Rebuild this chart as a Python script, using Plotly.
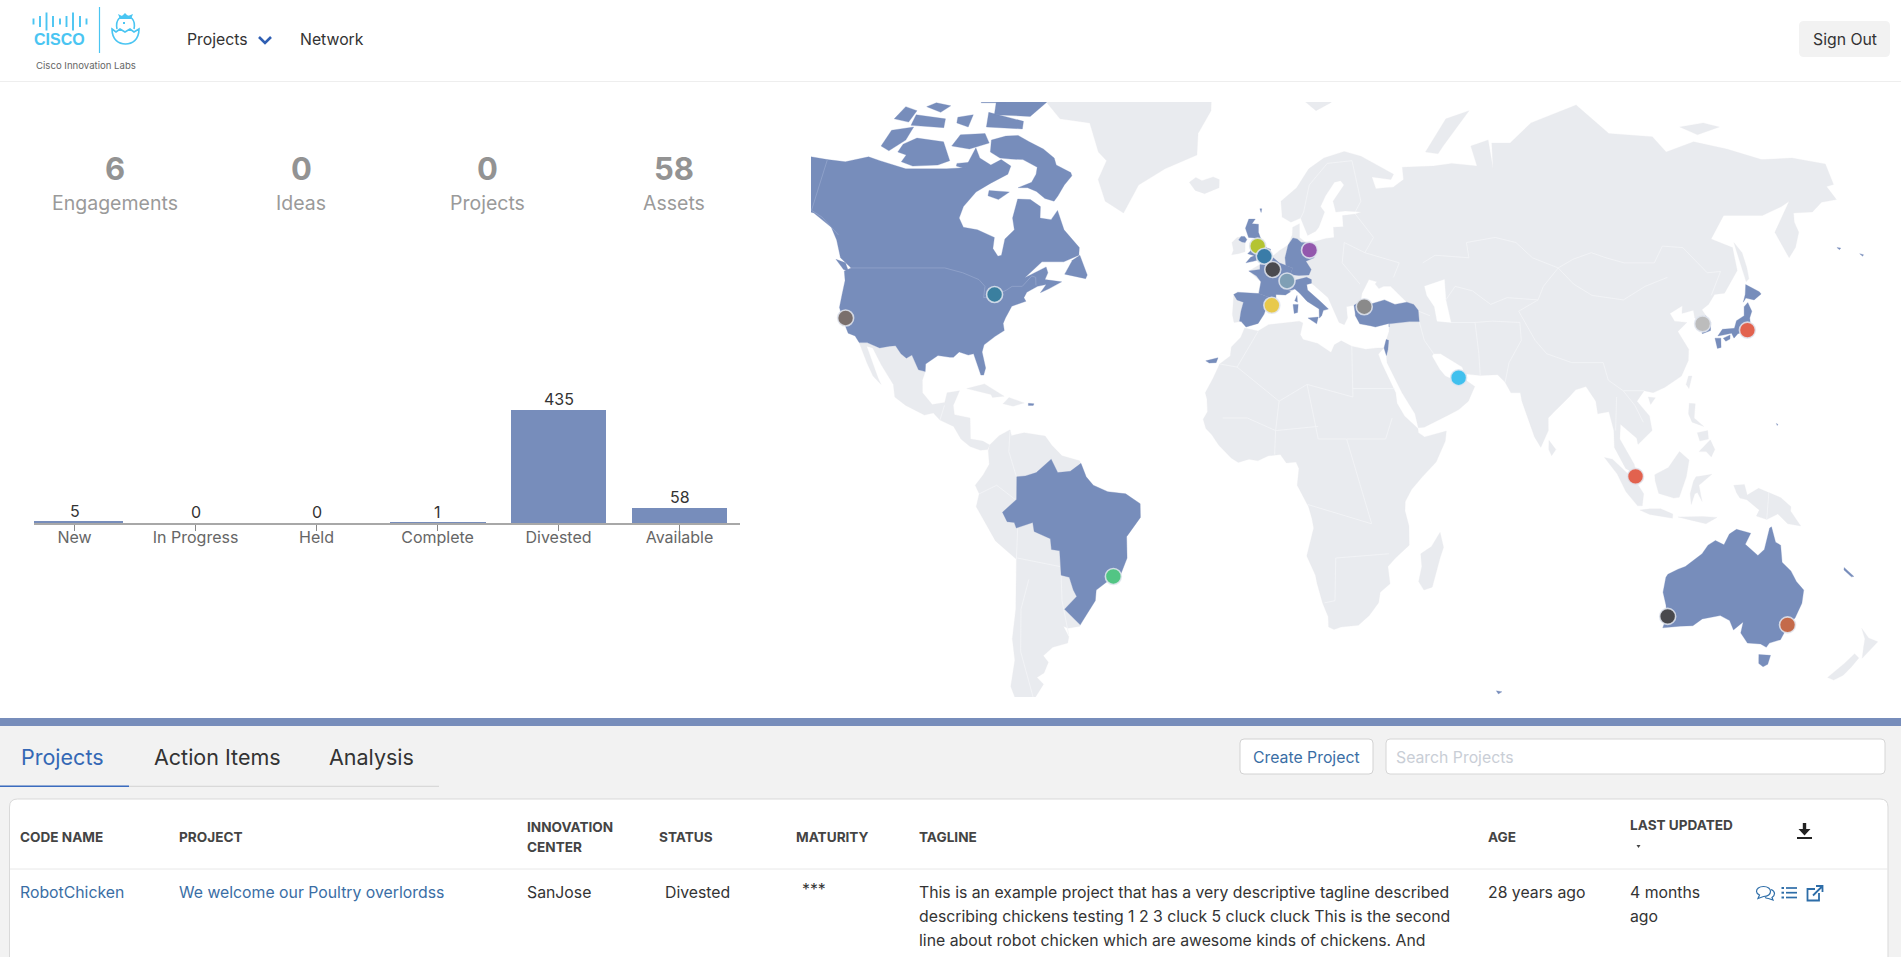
import numpy as np
import plotly.graph_objects as go

# ---------- bar chart data ----------
stage_names = ["New", "In Progress", "Held", "Complete", "Divested", "Available"]
stage_counts = [5, 0, 0, 1, 435, 58]

# ---------- KPI data ----------
kpi_labels = ["Engagements", "Ideas", "Projects", "Assets"]
kpi_values = ["6", "0", "0", "58"]

# ---------- map sites ----------
site_names = ["San Jose", "Toronto", "Manchester", "London", "Paris", "Geneva", "Berlin", "Barcelona",
              "Istanbul", "Dubai", "Seoul", "Tokyo", "Singapore", "Rio", "Perth", "Sydney"]
site_lat = [38.0, 43.2, 53.3, 51.3, 48.7, 46.2, 52.5, 40.8, 40.5, 24.6, 36.7, 35.3, 1.1, -22.3, -31.7, -33.7]
site_lon = [-122.0, -79.4, -2.2, -0.2, 2.3, 6.5, 13.4, 2.0, 29.0, 55.3, 127.0, 139.7, 103.6, -43.0, 115.9, 151.0]
site_colors = ["#7a6f6c", "#3a7f9f", "#b4c432", "#3a7ca8", "#4a4a4f", "#7f9fb5", "#9358ad", "#e8c94c",
               "#8a8a8a", "#40c0ee", "#bcbcbc", "#e2624e", "#e2624e", "#52c584", "#49494d", "#c46a4a"]

# ---------- land outlines, (lon, lat) ----------
africa = [(-5.9,35.8),(-2,35.1),(1,36.5),(5,36.8),(10,37.3),(11,36.9),(10.2,34.3),(11,33.2),(15.2,32.3),(19,30.3),(20,32),(22,32.9),(25,31.7),(29,31),(32.3,31.3),(34.2,31.3),(32.6,29.9),(33.5,27.8),(35.5,24),(37.2,21),(37.5,18.5),(39.5,15.5),(43.2,12.5),(43.3,11.5),(45,10.5),(51.2,11.9),(50.8,9.5),(48,4.5),(44,1),(41,-2),(39.3,-4.8),(39.3,-7),(40.5,-10.5),(40.7,-15),(36.9,-18),(34.8,-20),(35.5,-24),(32.8,-26),(32.5,-28.5),(30,-31.5),(27,-33.8),(22,-34.2),(20,-34.8),(18.4,-34.2),(18.2,-31.8),(16.5,-28.6),(14.8,-24),(14.3,-22),(11.8,-17.5),(13.7,-11),(13.2,-8.8),(12.2,-6),(9,-1),(9.5,3),(8.7,4.5),(6,4.3),(4.3,6.3),(1,6),(-2,4.8),(-4.5,5.2),(-7.5,4.4),(-9.5,5.5),(-13,8.5),(-15,11),(-16.7,12.5),(-17.5,14.7),(-16.3,16.5),(-16.5,19.5),(-17,21),(-14.8,24.5),(-13,27.7),(-10,29.5),(-9.7,31.5),(-7,33.7)]
madagascar = [(49.3,-12),(50.4,-15.5),(49.5,-18),(47.5,-24.8),(45.2,-25.5),(43.6,-23.5),(44.4,-20),(44,-17),(47,-15.3)]
eurasia = [(-9.2,43),(-2,43.4),(-1.2,46),(-4.8,48.4),(-1.5,49.7),(1.7,51),(4.5,52.5),(7,53.5),(8.3,55.5),(8.5,57),(10.6,57.7),(10.5,55),(12,54.2),(14,54),(18.5,54.8),(21,55),(21,57),(24,57.1),(24,59.3),(28,59.6),(30,60),(25,60.2),(22,60),(21.3,62),(25,65),(24,65.8),(22,65.5),(19,63),(17.3,61),(18.5,60),(16.5,57),(15.5,56.2),(13,55.4),(11,58.8),(8,58),(5.3,59),(5,62),(10,64.5),(14,68),(19,70),(25.7,71.1),(31,70.3),(41,67),(40,66),(34,66.5),(35,64.3),(38,64.5),(40.5,64.6),(44,66),(44,68.3),(54,68.5),(60,69),(68,68.5),(67,72),(73,73),(73,68),(74,72.5),(80,72.5),(88,75.5),(104,77.7),(113,74),(127,73.5),(130,71),(140,72.7),(150,71.5),(160,69.7),(170,70),(180,68.9),(180,65.1),(177.5,64.7),(179,62.3),(174,61.8),(170,60),(164,59.8),(163,58),(163,56),(160,53),(156.8,51),(155.7,56),(164,62),(161,61),(154,59.3),(142,59.3),(135.5,54.7),(141,53),(140,48.5),(135,43.5),(132,43.2),(129.7,41),(127.5,39.8),(129.4,37),(129,35.2),(126.5,34.5),(126.5,37),(125,38),(125,39.7),(121.5,39),(122,40.7),(118,39),(119,37.3),(122.5,37),(119.5,35),(122,31),(121.5,28.5),(119,25),(114,22.3),(110.5,21),(108,21.5),(105.7,19),(108.9,15.5),(109.3,12),(105,8.7),(104.8,10.2),(100.5,13.5),(100,10),(103.5,4),(104,1.4),(101,3),(98.3,8),(98.5,12),(97.5,16.5),(94.3,16),(94,19),(91.5,22.5),(88.5,21.7),(86.5,20),(82,16.5),(80.2,15),(80,12),(77.6,8),(76,10.5),(73,19),(72.7,21),(70,21),(68.5,23.5),(66.5,25.3),(61.5,25.1),(57,25.5),(56.5,27),(50.5,30),(48.5,30),(48,29.5),(50,26.5),(51.5,25),(54,24),(56,26),(56.5,24.5),(59.8,22.5),(57.8,19),(55,17),(52,15.7),(45,12.8),(43.3,12.7),(42.5,16),(39,21),(35,28),(34.9,29.5),(34.2,31.3),(35.9,35),(36,36.8),(31,36.2),(27.5,36.7),(26.3,39),(29,41),(31,41.1),(35,42),(38,41),(41.5,41.5),(37,45),(35,45),(33.5,44.5),(32.5,45.5),(33,46),(30.7,46.5),(28.5,43.5),(28,41.7),(26,40.8),(23.8,40.5),(24,38),(23,36.5),(21.5,37),(19.4,41),(18.5,42.5),(14.5,45.2),(13.7,45.7),(12.3,45.4),(12.5,44.2),(16,41.8),(18.5,40),(17,39.5),(16,38),(15.8,40),(12.3,41.7),(10.2,43.5),(8.8,44.4),(6,43.1),(3.2,43.2),(3.2,41.8),(0.5,40.5),(-0.3,38.8),(-2,36.8),(-5.5,36),(-6.9,37.2),(-9,37),(-9.5,38.7)]
ireland = [(-6,52.2),(-6,54),(-6.5,55.2),(-8.5,55),(-10,54),(-9.5,52.5),(-10,51.6),(-8,51.8)]
iceland = [(-24,65.5),(-22,64),(-19,63.4),(-14.5,64.5),(-14.5,66),(-16.5,66.5),(-20,65.8),(-22,66.4)]
greenland = [(-73,78),(-68,76),(-58,75.5),(-54,71),(-51,69.5),(-53,66),(-50,62),(-43.9,59.8),(-40,65),(-32,68),(-22,70.5),(-22,74),(-18,77),(-18,81),(-30,83.5),(-60,82.5),(-67,80.5)]
svalbard = [(11,79),(17,77),(22,78),(27,80),(15,80)]
novaya_zemlya = [(52,71),(56,70.7),(58,72),(68,77),(60,76),(55,73)]
new_siberian = [(137,75),(145,75.5),(150,75),(142,73.8)]
sakhalin = [(142,46),(142,54),(143.3,52),(143,49),(143,46.7)]
taiwan = [(121,25),(122,25),(120.8,22),(120.1,23)]
hainan = [(109,20),(111,19.8),(109.5,18.2)]
sri_lanka = [(80,9.7),(81.8,7.5),(80.5,6),(79.8,7.5)]
luzon = [(120.5,18.5),(122.2,18.4),(121.5,15),(124,13),(120.8,14),(120,16)]
mindanao = [(122,7),(125.5,9.8),(126.5,7.5),(125.3,5.7),(124,7)]
visayas = [(122,11.5),(125,12),(125,10),(122.5,9.5)]
borneo = [(109,1.5),(111.3,2.5),(113,3.2),(116.5,7),(119,5),(117.8,1),(116,-3.8),(114.5,-4),(110.2,-2.9),(109,0)]
sumatra = [(95.3,5.6),(97.5,5.2),(103.5,0),(106,-3),(105.8,-5.8),(104.5,-5.8),(101,-2.5),(98.5,1.7)]
java = [(105.2,-6.8),(108,-6.5),(111,-6.5),(114.5,-7.7),(114.5,-8.7),(108,-7.8)]
sulawesi = [(119.5,-5.5),(120.3,-3),(121,-2.7),(122.5,-4.8),(122,-3.3),(121.3,-1),(125,1.6),(120.5,1),(119.7,0),(119,-3)]
new_guinea = [(131,-1),(134,-0.8),(135,-3.3),(138,-1.7),(144.5,-3.9),(147.5,-6),(147.5,-7),(150.7,-10.5),(147,-10),(144,-7.7),(141,-9),(138,-8.2),(138.7,-6.8),(135,-4.4),(133,-4),(132,-2.8)]
sunda = [(116,-8.4),(119,-8.3),(123,-8.3),(127,-8.5),(124,-10),(120,-9.2)]
nz_north = [(172.7,-34.5),(175.5,-36.8),(178.5,-37.7),(177,-39.5),(175.3,-41.6),(174.8,-39),(174.5,-37)]
nz_south = [(172.7,-40.5),(174.3,-41.5),(172.8,-43.7),(171,-45.5),(168.5,-46.6),(166.5,-46),(170.5,-42.8)]
cuba = [(-85,22),(-80,23.1),(-74.2,20.2),(-77.5,19.9),(-78,20.6)]
hispaniola = [(-74.4,18.4),(-72.8,19.9),(-68.4,18.6),(-71.5,17.8)]
mexico_central = [(-117.1,32.5),(-114.2,28),(-112,25),(-109.5,23),(-110.5,24.5),(-112.5,28),(-114.8,31.7),(-113,31.3),(-110,27.5),(-106,23),(-105.3,20),(-102,18),(-96.5,15.7),(-94,16.2),(-92,14.5),(-88,13),(-85.7,10),(-83,8.2),(-80,7.3),(-78,7.5),(-77.5,8.6),(-79.5,9.5),(-83,10),(-83.5,15),(-88,15.8),(-88.5,18),(-87,21.5),(-90.5,21),(-91,18.7),(-94.5,18.2),(-97.5,21),(-97.8,24),(-97.2,26),(-99.2,26.4),(-101.5,29.7),(-103,29),(-104.7,30),(-106.5,31.8),(-108.2,31.7),(-111,31.3),(-114.8,32.5)]
south_america = [(-77.5,8.6),(-75,10.8),(-72,12.2),(-71.5,10.8),(-68,11.5),(-62,10.7),(-60,8.5),(-57,6),(-52,4.8),(-50,1),(-48,-1),(-44,-2.5),(-39,-3),(-35,-5.3),(-35,-8.5),(-39,-13),(-39,-18),(-41,-22),(-44,-23),(-48,-25.5),(-48.5,-28),(-52,-32),(-53.5,-34),(-57,-34.5),(-58.3,-34),(-57,-36.5),(-57.5,-38),(-62,-39),(-65,-41),(-63.7,-42.5),(-65.3,-45),(-67.5,-46),(-65.7,-47.5),(-69,-51),(-68.5,-52.5),(-74,-52),(-75.5,-48),(-73.5,-42),(-73.5,-37),(-71.5,-30),(-70.3,-18.3),(-76,-14),(-81,-6),(-80,-3),(-81,-1),(-78.8,1.5),(-77.3,4),(-77.8,7.2)]
grey_land = [africa, madagascar, eurasia, ireland, iceland, greenland, svalbard, novaya_zemlya, new_siberian, sakhalin, taiwan, hainan,
             sri_lanka, luzon, mindanao, visayas, borneo, sumatra, java, sulawesi, new_guinea, sunda, nz_north, nz_south,
             cuba, hispaniola, mexico_central, south_america]
caspian = [(47,45),(53,46.5),(53,42),(54,37),(50,37.3),(49.5,40.5),(47.5,43)]

north_america = [(-156,71),(-141,69.7),(-135,69.3),(-128,70.2),(-124,69.5),(-115,68),(-108,68),(-102,68),(-96,68.2),(-94,71.7),(-92,70),(-88,68.7),(-85,69.7),(-81.5,68.5),(-82,67),(-87,65.3),(-91,63.7),(-94,61),(-94.5,58.8),(-92.5,57),(-88,56.5),(-82.3,55),(-82,52.8),(-80,51.3),(-79,51.5),(-79,54.7),(-76.7,56.5),(-78,58.8),(-77.5,62.4),(-73.5,62.3),(-70,61),(-69.5,58.8),(-66,58.5),(-64.5,60.3),(-61.5,56.5),(-56,53),(-55.8,51.5),(-60,50.2),(-66.5,50.2),(-69,48.5),(-71,46.9),(-65,49.2),(-64.3,48),(-65,46.5),(-61,46),(-60,46),(-63.5,44.5),(-66,43.6),(-64.5,45.4),(-67,45),(-70,43.7),(-70.7,42.5),(-70,41.7),(-74,40.6),(-75.5,38),(-76,36.8),(-75.5,35.2),(-78,33.9),(-81,32),(-81.4,30.4),(-80,26.8),(-80.4,25.2),(-81.2,25.2),(-82.7,27.8),(-83.8,30),(-85.3,29.7),(-88,30.4),(-89.5,29.2),(-90.5,29.2),(-94,29.6),(-97.3,27.7),(-97.2,26),(-99.2,26.4),(-101.5,29.7),(-103,29),(-104.7,30),(-106.5,31.8),(-108.2,31.7),(-111,31.3),(-114.8,32.5),(-117.1,32.5),(-118.5,34),(-120.6,34.6),(-122.4,37.2),(-124.3,40.3),(-124.2,43),(-124,46.3),(-124.7,48.4),(-122.8,49),(-127,51),(-130,54.5),(-133,57),(-137,58.6),(-140,59.8),(-146,60.8),(-150,60),(-152,59),(-158,57),(-165,54.5),(-160,59),(-166,62),(-165,64.5),(-168,65.6),(-163,67),(-166,68.5)]
vancouver_island = [(-123.5,48.4),(-125,50),(-128.2,50.7),(-125,48.7)]
baffin = [(-61.5,66.7),(-63.5,65),(-65,63),(-66,62),(-69,62.5),(-72,63.8),(-75,64.5),(-78,64.5),(-74,65.5),(-73,67),(-73,68.3),(-78,69.7),(-82,69.8),(-85.5,70),(-89,71),(-89.5,73),(-85,73.6),(-81,73.7),(-77,72.7),(-72,71.5),(-68,70),(-67,68.7),(-62,67.3)]
victoria_island = [(-117,69.3),(-113,68.5),(-105,68.7),(-101.5,69.5),(-105,72.7),(-110,73),(-114,73.3),(-118,72.3),(-119,71),(-116,70.5)]
banks_island = [(-125,72),(-122,71.2),(-117.5,73),(-116,75),(-123,74.5)]
southampton = [(-87,64),(-80.5,63.7),(-83.5,62.3),(-87,63)]
melville = [(-117,75.2),(-106,74.9),(-106,76),(-116,76.5)]
prince_patrick = [(-123,76),(-118,75.6),(-116,77),(-120,77.5)]
mackenzie_king = [(-113,77.5),(-108,76.8),(-105,77.6),(-110,78)]
bathurst = [(-102,75.5),(-98,75),(-97,76.5),(-102,76.2)]
somerset = [(-102,72),(-96,71.5),(-90,72.5),(-92,74),(-100,73.8)]
king_william = [(-99,69),(-95,69.2),(-96,68),(-99,68.5)]
devon = [(-92,75),(-80,74.7),(-80,75.7),(-92,76.8)]
ellesmere = [(-90,76.5),(-78,76.3),(-72,78.5),(-62,82.5),(-90,82)]
axel_heiberg = [(-95,78),(-87,78),(-87,81),(-95,80.5)]
newfoundland = [(-59.3,47.7),(-53,46.7),(-52.6,47.5),(-55.5,51.5),(-57.5,50.5)]
puerto_rico = [(-67.2,18.5),(-65.6,18.4),(-65.8,18),(-67.2,18)]
brazil = [(-51.6,4.2),(-50,1),(-48,-1),(-44,-2.5),(-39,-3),(-35,-5.3),(-35,-8.5),(-39,-13),(-39,-18),(-41,-22),(-44,-23),(-48,-25.5),(-48.5,-28),(-52,-32),(-53.4,-33.7),(-57.5,-30),(-53.7,-27),(-54.5,-25.5),(-55.5,-22.5),(-57.8,-22),(-58,-19),(-58,-16.3),(-60.3,-16),(-60.5,-13.5),(-65,-11.8),(-65.3,-9.7),(-70,-11),(-70.5,-9.7),(-72.5,-9.5),(-73.7,-7.3),(-69.6,-4.3),(-69.4,1),(-67,1.2),(-64,2),(-60,5.2),(-58,2),(-54.5,2.3)]
great_britain = [(-5.7,50),(-3.5,50.3),(1.3,51.2),(1.7,52.7),(0.3,53),(-1.3,54.8),(-2,56),(-2,57.6),(-4,57.7),(-3,58.6),(-5,58.6),(-6,56.8),(-5,55),(-3,54.9),(-3,53.4),(-4.5,53.2),(-4.3,52.4),(-5.2,51.8),(-3.2,51.4),(-4.3,51.1)]
n_ireland = [(-5.5,54.6),(-6.2,55.2),(-7.3,55.2),(-8,54.5),(-7,54.1),(-6,54)]
shetland = [(-1.6,60.6),(-1,60.6),(-1.2,59.9)]
france = [(-1.8,43.4),(-1.2,46),(-2.5,47.3),(-4.8,48.4),(-1.5,48.7),(-1.5,49.7),(1.5,50.1),(2.5,51),(4.2,50),(6,49.5),(8.2,49),(7.5,47.6),(6,46.3),(7,45.8),(7,44),(7.5,43.8),(6,43.1),(3.2,43.2),(3.2,42.4),(0.7,42.7)]
corsica = [(9.4,43),(9.5,41.5),(8.7,41.8)]
new_caledonia = [(164,-20.2),(167,-22.3),(166.3,-22.4),(164,-20.8)]
kerguelen = [(68.8,-49),(70.5,-49.2),(69.5,-49.7)]
spain = [(-9.2,43.2),(-8,43.7),(-1.8,43.4),(0.7,42.7),(3.2,42.4),(3.2,41.8),(0.5,40.5),(-0.3,38.8),(-2,36.8),(-5.5,36),(-6.9,37.2),(-7.4,37.3),(-7,39.5),(-6.3,41.5),(-8.2,42)]
balearic = [(2.5,39.6),(3.4,39.9),(3.2,39.3)]
canary = [(-17,28.4),(-13.5,29.1),(-14,28),(-16,27.9)]
germany = [(6,51),(7,53.5),(8.5,54.9),(9.8,54.7),(11,54),(14.2,53.9),(14.7,51),(12.2,50.3),(13.7,48.7),(13,47.5),(10,47.4),(7.5,47.6),(8.2,49),(6.2,49.5)]
italy = [(7,44),(7,45.8),(8.5,46.3),(10.5,46.7),(12.3,47),(13.7,46.5),(13.7,45.7),(12.3,45.4),(12.5,44.2),(16,41.8),(18.5,40),(17,39.7),(16.5,38.5),(15.8,38),(15.8,40),(12.3,41.7),(10.2,43.5),(8.8,44.4)]
sicily = [(12.5,38),(15.5,38.2),(15,36.7)]
sardinia = [(8.2,41),(9.7,41),(9.5,39.2),(8.5,39)]
turkey = [(26.3,39),(26,40.8),(28,41.7),(31,41.1),(35,42),(38,41),(41.5,41.5),(43.5,41),(44.7,39.7),(44.8,37.2),(42,37.2),(38,36.8),(36,36.7),(36,36),(36,36.8),(32,36),(30.5,36.3),(27.5,36.7),(26.3,38.5)]
israel = [(35,33.2),(35.7,33),(35.4,31),(34.9,29.6),(34.3,31.3)]
honshu = [(130.9,34),(132.5,35.5),(136,35.7),(137,37.4),(139.5,38.5),(140,40.5),(141.3,41.4),(142,39.5),(141,38),(140.8,35.7),(139,35),(136.8,34.5),(135.5,33.5),(135,34.6),(132.5,34.2)]
kyushu = [(130,33.5),(131.7,33.5),(131.4,31.4),(130.3,31.2)]
shikoku = [(132.4,33.5),(134.5,34.2),(134.3,33.3),(133,32.8)]
hokkaido = [(140,41.5),(141,43.2),(141.7,45.4),(145.3,43.8),(145.7,43.3),(143.3,42),(141,42.4)]
south_korea = [(126.5,34.5),(126.6,37),(128.3,38.5),(129.4,37),(129,35.2)]
australia = [(113.3,-26),(113.7,-22.5),(114.2,-21.8),(117,-20.6),(119,-20),(122.2,-18),(123.5,-17),(125,-15),(127,-13.9),(129.5,-14.9),(130.8,-12.4),(132.7,-11.3),(136.8,-12.2),(135.5,-14.8),(139.3,-17.4),(141,-16),(142,-11),(142.5,-10.7),(144,-14.3),(145.5,-15),(146.3,-19),(149,-21),(150.8,-23.5),(153.2,-25.5),(153.6,-28.6),(152.7,-32),(151.2,-33.9),(150,-37.2),(147,-38),(146.4,-39),(144.5,-38.2),(140.6,-38),(138,-35.6),(138,-33),(135.7,-34.9),(134,-32.7),(131,-31.5),(126,-32.3),(123.7,-33.9),(120,-34),(115.1,-34.4),(115.7,-31.7),(114.8,-29)]
tasmania = [(144.7,-40.7),(148.2,-40.9),(148,-43),(146.8,-43.6),(145.3,-42.8)]
aleutian_a = [(172.5,53),(173.6,52.9),(173,52.6)]
aleutian_b = [(178.5,51.8),(179.5,51.6),(179,51.3)]
guam = [(144.6,13.7),(145,13.5),(144.8,13.2)]
blue_land = [north_america, vancouver_island, baffin, victoria_island, banks_island, southampton, melville, prince_patrick,
             mackenzie_king, bathurst, somerset, king_william, devon, ellesmere, axel_heiberg, newfoundland, puerto_rico,
             brazil, great_britain, n_ireland, shetland, france, corsica, new_caledonia, kerguelen, spain, balearic, canary,
             germany, italy, sicily, sardinia, turkey, israel, honshu, kyushu, shikoku, hokkaido, south_korea, australia,
             tasmania, aleutian_a, aleutian_b, guam]

# faint country borders
grey_borders = [
    [(47,50),(51,51.5),(61,51),(61,54),(70,55),(76,54),(80,51),(87,49)],
    [(87,49),(92,50.7),(98,52),(102,51),(107,50),(116,50),(120,53.3),(126,53),(131,48),(135,48.3),(131,43)],
    [(87,49),(91,45.5),(96,43),(105,42),(112,45),(119,47)],
    [(80,42),(74,39.5),(78,33),(81,30),(88,28),(97,28),(98,24),(102,21.5),(108,21.5)],
    [(53,42),(56,45),(61,44),(66,41),(71,42.5),(80,42),(82,45),(87,49)],
    [(44.8,39.5),(48,38.5)], [(44.8,37.2),(46,33),(48.5,30)], [(54,37),(61,37),(61.5,30),(61.5,25.1)],
    [(61,37),(66,37.3),(74,37),(74,33),(70,28),(68.5,23.5)],
    [(24,54),(23,50),(28,45.5)], [(30,52),(40,50),(38,47)], [(24,54),(30,52),(33,55),(28,59.6)],
    [(20,69),(28,69.5),(30,62),(28,60)], [(20,69),(14,65),(12,60),(11,58.8)],
    [(25,31.7),(25,20),(12,23),(4,19),(-8,27),(-2,35)], [(25,22),(36.9,22)], [(-8,27),(-13,27.7)],
    [(12,23),(15,10),(23,10),(34,10),(36,15)], [(23,10),(30,-10),(12,-5.5)],
    [(20,-18),(35,-17)], [(20,-18),(20,-28),(17,-28.5)], [(4,19),(3,12),(2.7,6.3)], [(-12,15),(-5,15),(3,12),(15,13)],
    [(-92,14.5),(-91,18)], [(-70,-18),(-58,-20)], [(-69.5,1),(-72,7),(-72,12)],
    [(-80,-3),(-75,-1),(-70,-4.3)], [(-70.3,-18.3),(-69.6,-11)], [(-57,-36),(-58,-28),(-57.8,-22)], [(-69,-51),(-71.5,-40),(-70,-30),(-67,-23)],
    [(100,20),(99,12)], [(102,21.5),(105,18),(107,14)], [(141,-2.6),(141,-9)],
]
blue_borders = [
    [(-123,49),(-95,49),(-89.5,48),(-84.5,46.5),(-82.5,45),(-82.5,42.5),(-79,43),(-76,44.2),(-74.5,45),(-71.5,45),(-69,47.3),(-67.8,47),(-67.5,45.2)],
    [(-141,69.7),(-141,60.3),(-137,59),(-130,55.5)],
]

# ---------- projection fitted to the reference map ----------
proj_lat = [-60, -44, -25, 0, 25, 36, 48.4, 60, 70, 73, 75, 77.7, 80, 85]
proj_y = [740, 668.5, 588, 481, 376, 327, 271, 212, 158, 140, 127, 105, 88, 50]
scale_lat = [-60, -44, -25, 0, 25, 36, 49, 60, 70, 77, 85]
scale_x = [3.3, 3.39, 3.52, 3.58, 3.5, 3.45, 3.37, 3.22, 3.1, 3.0, 2.9]
PRIME_X = 1265


def project(lon, lat):
    lon, lat = np.asarray(lon, float), np.asarray(lat, float)
    return PRIME_X + np.interp(lat, scale_lat, scale_x) * lon, np.interp(lat, proj_lat, proj_y)


LAND = "#e9ebef"
BLUE = "#778dbb"
TEXT = "#333333"
LINK = "#3a6ea5"
FONT = "Inter, Roboto, sans-serif"
W, H = 1901, 957

fig = go.Figure()

# ---------- map ----------
def add_poly(points, color):
    x, y = project([p[0] for p in points], [p[1] for p in points])
    fig.add_trace(go.Scatter(x=list(x) + [x[0]], y=list(y) + [y[0]], xaxis="x2", yaxis="y2", mode="lines", fill="toself",
                             fillcolor=color, line=dict(width=0.3, color=color), hoverinfo="skip", showlegend=False))


def add_line(points, color, width):
    x, y = project([p[0] for p in points], [p[1] for p in points])
    fig.add_trace(go.Scatter(x=x, y=y, xaxis="x2", yaxis="y2", mode="lines", line=dict(width=width, color=color),
                             hoverinfo="skip", showlegend=False))


for poly in grey_land:
    add_poly(poly, LAND)
add_poly(caspian, "white")
for seg_pts in grey_borders:
    add_line(seg_pts, "#f4f5f7", 0.8)
for poly in blue_land:
    add_poly(poly, BLUE)
for seg_pts in blue_borders:
    add_line(seg_pts, "#93a5cb", 0.8)

sx, sy = project(site_lon, site_lat)
fig.add_trace(go.Scatter(x=sx, y=sy, xaxis="x2", yaxis="y2", mode="markers", text=site_names, hoverinfo="text", showlegend=False,
                         marker=dict(size=16, color=site_colors, line=dict(width=1.6, color="rgba(226,230,240,0.85)"))))

# ---------- bars ----------
fig.add_trace(go.Bar(x=list(range(len(stage_names))), y=stage_counts, marker=dict(color=BLUE, line_width=0), width=0.793,
                     showlegend=False, hovertemplate="%{y}<extra></extra>"))

# ---------- page furniture (in pixels on a full-page overlay axis) ----------
shapes, notes = [], []

for pos, count in enumerate(stage_counts):
    notes.append(dict(xref="x", yref="y", x=pos, y=count, text=str(count), showarrow=False, xanchor="center", yanchor="middle",
                      yshift=10.7, font=dict(size=16, color=TEXT, family=FONT)))


def rect(x0, y0, x1, y1, fill, line=None, lw=1):
    shapes.append(dict(type="rect", xref="x3", yref="y3", x0=x0, y0=y0, x1=x1, y1=y1, fillcolor=fill, layer="below",
                       line=dict(color=line or fill, width=lw if line else 0)))


def rrect(x0, y0, x1, y1, r, fill, line=None, lw=1):
    d = (f"M{x0+r},{y0} L{x1-r},{y0} Q{x1},{y0} {x1},{y0+r} L{x1},{y1-r} Q{x1},{y1} {x1-r},{y1} "
         f"L{x0+r},{y1} Q{x0},{y1} {x0},{y1-r} L{x0},{y0+r} Q{x0},{y0} {x0+r},{y0} Z")
    shapes.append(dict(type="path", xref="x3", yref="y3", path=d, fillcolor=fill, layer="below",
                       line=dict(color=line or fill, width=lw if line else 0)))


def seg(x0, y0, x1, y1, color, width=1):
    shapes.append(dict(type="line", xref="x3", yref="y3", x0=x0, y0=y0, x1=x1, y1=y1, line=dict(color=color, width=width)))


def path(d, line=None, width=1.5, fill="rgba(0,0,0,0)"):
    shapes.append(dict(type="path", xref="x3", yref="y3", path=d, fillcolor=fill, line=dict(color=line or fill, width=width if line else 0)))


def label(x, y, s, size=16, color=TEXT, anchor="left", family=FONT):
    notes.append(dict(xref="x3", yref="y3", x=x, y=y, text=s, showarrow=False, xanchor=anchor, yanchor="middle",
                      align=anchor, borderpad=0, borderwidth=0, font=dict(size=size, color=color, family=family)))


# header
seg(0, 81.5, W, 81.5, "#eeeeee", 1)
CYAN = "#4ac5f2"
for bx, bh in zip([33.5, 40, 46.5, 53, 60, 66.5, 73, 80, 86.5], [6, 11, 18, 11, 6, 11, 18, 11, 6]):
    seg(bx, 21.5 - bh / 2, bx, 21.5 + bh / 2, CYAN, 1.9)
label(59, 39, "<b>CISCO</b>", 16, CYAN, "center", "Liberation Sans")
seg(99.5, 7, 99.5, 53, CYAN, 1.2)
path("M112,29 L116,32 L120,29 L125,32 L130,29 L134,32 L139,29 C139,40 132,44 125.5,44 C119,44 112,40 112,29 Z", CYAN, 1.6)
path("M117,29 C115,19 121,16 125.5,16 C130,16 136,19 134,29", CYAN, 1.6)
path("M118,14 L122,16 L125,13 L128,16 L133,14 L131,19 L120,19 Z", fill=CYAN)
path("M123,22 L125,22 L125,24 L123,24 Z", fill=CYAN)
label(85.7, 65.7, "Cisco Innovation Labs", 9.6, "#666666", "center")
label(217, 39.3, "Projects", 15.8, TEXT, "center")
path("M259,37 L265,43 L271,37", "#2f5fb3", 2.6)
label(331.6, 39.3, "Network", 15.8, TEXT, "center")
rrect(1799, 21, 1890, 57, 5, "#f2f2f2")
label(1844.5, 39.3, "Sign Out", 15.8, TEXT, "center")

# KPIs
for cx, val, lab in zip([114.8, 301, 487, 673.5], kpi_values, kpi_labels):
    label(cx, 168, f"<b>{val}</b>", 31, "#939393", "center")
    label(cx, 203, lab, 19.5, "#9a9a9a", "center")

# lower panel
rect(0, 718, W, 726, BLUE)
rect(0, 726, W, H, "#f2f2f2")
seg(0, 786.3, 439, 786.3, "#d2d2d2", 1)
seg(0, 786.3, 129, 786.3, "#3b6cbf", 1.5)
label(62.4, 757, "Projects", 21.5, "#3468b5", "center")
label(217, 757, "Action Items", 21.5, TEXT, "center")
label(371.5, 757, "Analysis", 21.5, TEXT, "center")
rrect(1240, 739, 1373, 774, 4, "white", "#d2d2d2", 1)
label(1306.5, 757, "Create Project", 15.8, LINK, "center")
rrect(1386, 739, 1885, 774, 4, "white", "#d6d6d6", 1)
label(1396, 757, "Search Projects", 15.8, "#c9ced6")

# table
rrect(9.5, 799, 1888, 975, 8, "white", "#d9d9d9", 1)
seg(10, 869, 1888, 869, "#e8e8e8", 1)
header_x = [20, 179, 526.7, 526.7, 659, 796, 919, 1487.6, 1630]
header_y = [837, 837, 826.7, 847.3, 837, 837, 837, 837, 825]
header_text = ["CODE NAME", "PROJECT", "INNOVATION", "CENTER", "STATUS", "MATURITY", "TAGLINE", "AGE", "LAST UPDATED"]
for hx, hy, ht in zip(header_x, header_y, header_text):
    label(hx, hy, f"<b>{ht}</b>", 13.6, "#444444")
path("M1636.5,845 L1640.5,845 L1638.5,848 Z", fill="#444444")
path("M1802.8,823 L1806.2,823 L1806.2,829 L1810.5,829 L1804.5,835.5 L1798.5,829 L1802.8,829 Z", fill="#222222")
seg(1797, 838, 1812, 838, "#222222", 2)

label(20, 892.7, "RobotChicken", 15.8, LINK)
label(179, 892.7, "We welcome our Poultry overlordss", 15.8, LINK)
label(526.7, 892.7, "SanJose", 15.8)
label(664.8, 892.7, "Divested", 15.8)
label(802, 889.5, "***", 15.8)
tagline_lines = ["This is an example project that has a very descriptive tagline described",
                 "describing chickens testing 1 2 3 cluck 5 cluck cluck This is the second",
                 "line about robot chicken which are awesome kinds of chickens. And"]
for ly, line_text in zip([892.7, 916.7, 940.7], tagline_lines):
    label(919, ly, line_text, 15.8)
label(1487.6, 892.7, "28 years ago", 15.8)
label(1630, 892.7, "4 months", 15.8)
label(1630, 916.7, "ago", 15.8)

ICON = "#2d6da8"
path("M1763.5,886.5 C1768,886.5 1770.5,889 1770.5,891.5 C1770.5,894 1768,896.5 1763.5,896.5 L1758,898.5 L1759.5,895 C1757.5,894 1756.5,892.5 1756.5,891.5 C1756.5,889 1759,886.5 1763.5,886.5 Z", ICON, 1.2)
path("M1771,889.5 C1773.5,890.5 1774.5,892 1774.5,893.5 C1774.5,895 1773.5,896.5 1772,897.5 L1773,900 L1768.5,898.5 C1767,898.5 1766,898 1765,897.5", ICON, 1.2)
for iy in [888, 892.7, 897.5]:
    seg(1786, iy, 1797, iy, ICON, 1.7)
    seg(1781.5, iy, 1784, iy, ICON, 2)
path("M1815,889 L1807.5,889 L1807.5,900.5 L1819,900.5 L1819,893", ICON, 1.8)
path("M1813,895.5 L1822,886.5 M1816,886 L1822.5,886 L1822.5,892", ICON, 1.8)

fig.update_layout(
    width=W, height=H, margin=dict(l=0, r=0, t=0, b=0), paper_bgcolor="white", plot_bgcolor="rgba(0,0,0,0)",
    hovermode="closest", bargap=0, font=dict(family=FONT),
    xaxis=dict(domain=[34 / W, 740 / W], range=[-0.3355, 5.5], tickmode="array", tickvals=list(range(len(stage_names))),
               ticktext=stage_names, ticks="outside", ticklen=6, tickcolor="#888888", tickwidth=1, showline=True,
               linecolor="#a8a8a8", linewidth=1.5, showgrid=False, zeroline=False, fixedrange=True, ticklabelstandoff=-7,
               tickfont=dict(size=16, color="#666666", family=FONT), anchor="y"),
    yaxis=dict(domain=[1 - 523 / H, 1 - 393 / H], range=[0, 500.4], visible=False, fixedrange=True, anchor="x"),
    xaxis2=dict(domain=[811 / W, 1], range=[811, W], visible=False, fixedrange=True, anchor="y2"),
    yaxis2=dict(domain=[1 - 697 / H, 1 - 102 / H], range=[697, 102], visible=False, fixedrange=True, anchor="x2"),
    xaxis3=dict(domain=[0, 1], range=[0, W], visible=False, fixedrange=True, anchor="y3"),
    yaxis3=dict(domain=[0, 1], range=[H, 0], visible=False, fixedrange=True, anchor="x3"),
    shapes=shapes, annotations=notes,
)
fig.write_html("out.html", config=dict(displayModeBar=False),
               post_script="document.body.style.margin='0';document.body.style.overflow='hidden';")
